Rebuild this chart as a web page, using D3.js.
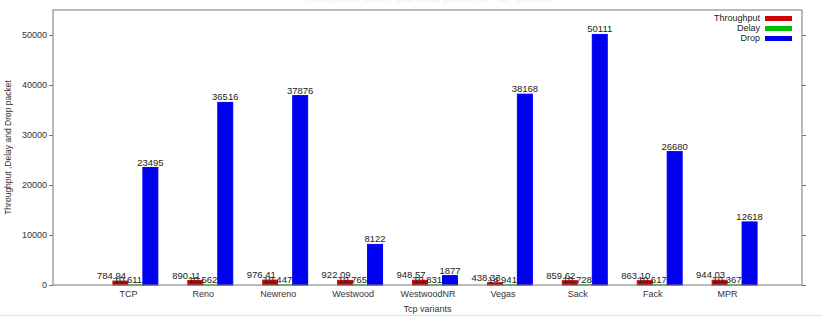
<!DOCTYPE html>
<html>
<head>
<meta charset="utf-8">
<script src="https://cdn.jsdelivr.net/npm/d3@7"></script>
<style>
  body { margin: 0; background: #fff; }
  svg { display: block; font-family: "Liberation Sans", Arial, sans-serif; }
</style>
</head>
<body>
<div id="chart"></div>
<script>
// data
var variants = ["TCP", "Reno", "Newreno", "Westwood", "WestwoodNR", "Vegas", "Sack", "Fack", "MPR"];
var throughput = [784.94, 890.11, 976.41, 922.09, 948.57, 438.33, 859.62, 863.10, 944.03];
var delay = [10.611, 10.562, 10.447, 10.765, 10.831, 14.941, 10.728, 10.617, 10.367];
var drop = [23495, 36516, 37876, 8122, 1877, 38168, 50111, 26680, 12618];
var yTicks = [0, 10000, 20000, 30000, 40000, 50000];

var series = [
    { name: "Throughput", values: throughput, color: "#d00000", fmt: d3.format(".2f"), off: -0.1, labelOff: -0.22 },
    { name: "Delay", values: delay, color: "#00c000", fmt: d3.format(".3f"), off: 0.1, labelOff: 0.0 },
    { name: "Drop", values: drop, color: "#0000f0", fmt: d3.format("d"), off: 0.3, labelOff: 0.3 }
];

var W = 822, H = 318;
var plotL = 53, plotR = 802, plotT = 10, plotB = 285;

var svg = d3.select("#chart").append("svg")
    .attr("width", W)
    .attr("height", H);

var x = d3.scaleLinear().domain([-1, 9]).range([plotL, plotR]);
var y = d3.scaleLinear().domain([0, 55000]).range([plotB, plotT]);
var barW = x(0.2) - x(0);

// faint title, mostly cut off at the top
svg.append("text")
    .attr("x", 428).attr("y", 2)
    .attr("text-anchor", "middle")
    .attr("font-size", 11)
    .attr("fill", "#f0f0f0")
    .text("Throughput, Delay and Drop packet of TCP variants");

// bars
series.forEach(function (s) {
    svg.selectAll(null)
        .data(s.values)
        .enter().append("rect")
        .attr("x", function (d, i) { return x(i + s.off) - barW / 2; })
        .attr("y", function (d) { return y(d); })
        .attr("width", barW)
        .attr("height", function (d) { return Math.max(0, y(0) - y(d)); })
        .attr("fill", s.color)
        .attr("stroke", s.color)
        .attr("stroke-width", 1);
});

// value labels
series.forEach(function (s) {
    svg.selectAll(null)
        .data(s.values)
        .enter().append("text")
        .attr("x", function (d, i) { return x(i + s.labelOff); })
        .attr("y", function (d) { return y(d) - 2; })
        .attr("text-anchor", "middle")
        .attr("font-size", 9.5)
        .attr("fill", "#222")
        .text(function (d) { return s.fmt(d); });
});

// plot frame
svg.append("rect")
    .attr("x", plotL).attr("y", plotT)
    .attr("width", plotR - plotL).attr("height", plotB - plotT)
    .attr("fill", "none")
    .attr("stroke", "#777")
    .attr("stroke-width", 1);

// y axis
var yAxis = svg.append("g")
    .attr("transform", "translate(" + plotL + ",0)")
    .call(d3.axisLeft(y).tickValues(yTicks).tickSize(4).tickSizeOuter(0).tickPadding(2).tickFormat(d3.format("d")));
yAxis.select(".domain").remove();
yAxis.selectAll("line").attr("stroke", "#777");
yAxis.selectAll("text").attr("font-size", 9).attr("fill", "#333").attr("font-family", "Liberation Sans, Arial, sans-serif");

// mirrored ticks on the right
var yAxisR = svg.append("g")
    .attr("transform", "translate(" + plotR + ",0)")
    .call(d3.axisRight(y).tickValues(yTicks).tickSize(4).tickSizeOuter(0).tickFormat(""));
yAxisR.select(".domain").remove();
yAxisR.selectAll("line").attr("stroke", "#777");

// x axis
var xAxis = svg.append("g")
    .attr("transform", "translate(0," + plotB + ")")
    .call(d3.axisBottom(x).tickValues(d3.range(variants.length)).tickSize(0).tickPadding(6)
        .tickFormat(function (d) { return variants[d]; }));
xAxis.select(".domain").remove();
xAxis.selectAll("text").attr("font-size", 9).attr("fill", "#333").attr("font-family", "Liberation Sans, Arial, sans-serif");

// axis titles
svg.append("text")
    .attr("x", x(4)).attr("y", 312)
    .attr("text-anchor", "middle")
    .attr("font-size", 9)
    .attr("fill", "#333")
    .text("Tcp variants");

svg.append("text")
    .attr("transform", "translate(11," + ((plotT + plotB) / 2) + ") rotate(-90)")
    .attr("text-anchor", "middle")
    .attr("font-size", 8.5)
    .attr("fill", "#333")
    .text("Throughput ,Delay and Drop packet");

// legend
var legend = svg.append("g");
series.forEach(function (s, i) {
    var ly = 18 + i * 10;
    legend.append("text")
        .attr("x", 760).attr("y", ly + 3)
        .attr("text-anchor", "end")
        .attr("font-size", 9)
        .attr("fill", "#222")
        .text(s.name);
    legend.append("rect")
        .attr("x", 765).attr("y", ly - 2)
        .attr("width", 27).attr("height", 5)
        .attr("fill", s.color);
});

// screenshot edge line
svg.append("line")
    .attr("x1", 0).attr("x2", W)
    .attr("y1", 315.5).attr("y2", 315.5)
    .attr("stroke", "#e2e2e2");
</script>
</body>
</html>
